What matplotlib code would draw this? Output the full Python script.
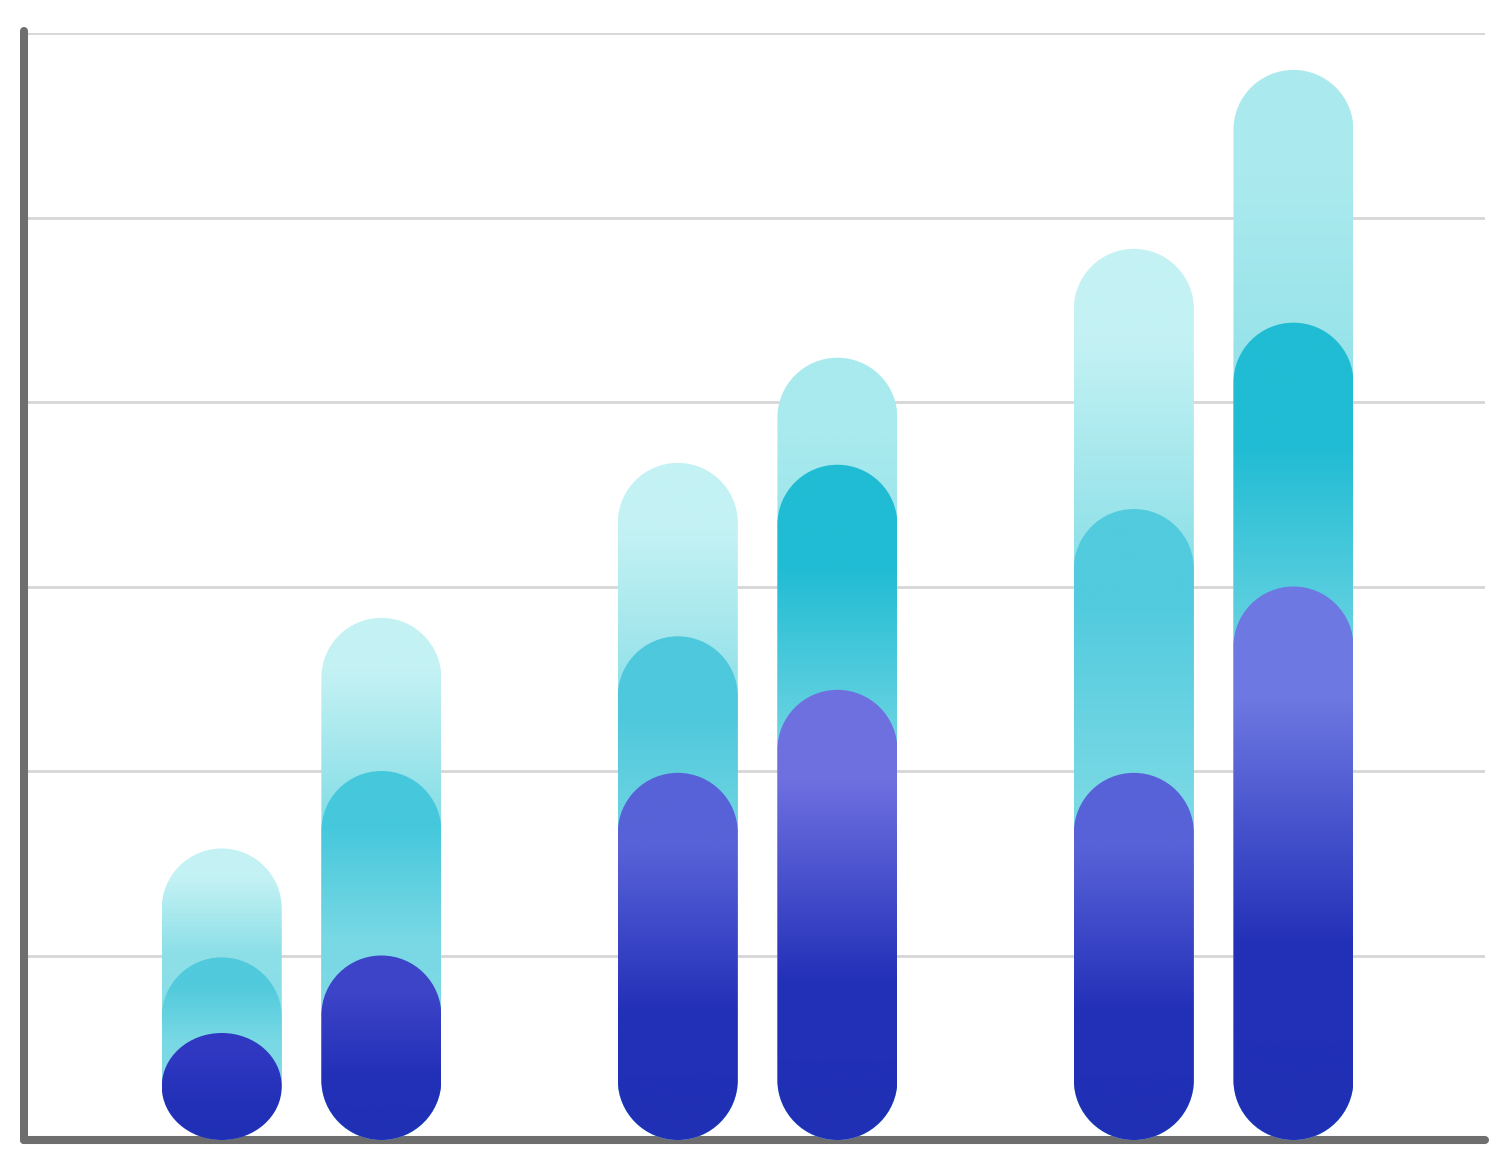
import numpy as np
import matplotlib
matplotlib.use("Agg")
import matplotlib.pyplot as plt
from matplotlib.path import Path
from matplotlib.patches import PathPatch
from matplotlib.colors import to_rgb

# three groups, two bars each; three overlapping layers per bar
groups = [0, 1, 2]
offsets = [-0.175, 0.175]
light_vals = [1.58, 2.83, 3.67, 4.24, 4.83, 5.80]
mid_vals = [0.99, 2.00, 2.73, 3.66, 3.42, 4.43]
dark_vals = [0.58, 1.00, 1.99, 2.44, 1.99, 3.00]

# per bar top colours
light_top = ['#c4f2f4', '#c4f2f4', '#c4f2f4', '#a8eaee', '#c4f2f4', '#aaeaee']
mid_top = ['#50cadc', '#46c8dc', '#4ec8dc', '#20bcd4', '#52cbde', '#20bcd4']
dark_top = ['#3038c2', '#3d44c8', '#5862d8', '#6e70e0', '#5862d8', '#6e78e2']

W, H = 1512, 1176
fig = plt.figure(figsize=(W / 100, H / 100), dpi=100)
ax = fig.add_axes([24 / W, 36 / H, (1485 - 24) / W, (1140 - 33) / H])
xlim = (-0.6086, 2.595)
ax.set_xlim(*xlim)
ax.set_ylim(0, 6)

# px per data unit
px_x = (1485 - 24) / (xlim[1] - xlim[0])
px_y = (1140 - 33) / 6.0
width = 120 / px_x


def pill(xc, top, w):
    r = w / 2
    ry = min(r * px_x / px_y, top / 2)
    k = 0.5523
    x0, x1 = xc - r, xc + r
    verts = [(x1, ry), (x1, top - ry),
             (x1, top - ry + k * ry), (xc + k * r, top), (xc, top),
             (xc - k * r, top), (x0, top - ry + k * ry), (x0, top - ry),
             (x0, ry),
             (x0, ry - k * ry), (xc - k * r, 0), (xc, 0),
             (xc + k * r, 0), (x1, ry - k * ry), (x1, ry),
             (x1, ry)]
    codes = [Path.MOVETO, Path.LINETO,
             Path.CURVE4, Path.CURVE4, Path.CURVE4,
             Path.CURVE4, Path.CURVE4, Path.CURVE4,
             Path.LINETO,
             Path.CURVE4, Path.CURVE4, Path.CURVE4,
             Path.CURVE4, Path.CURVE4, Path.CURVE4,
             Path.CLOSEPOLY]
    return Path(verts, codes)


def gradient(stops, n=256):
    t = np.linspace(0, 1, n)
    pos = [s[0] for s in stops]
    cols = np.array([to_rgb(s[1]) for s in stops])
    rgb = np.stack([np.interp(t, pos, cols[:, i]) for i in range(3)], axis=1)
    return rgb[:, None, :]


def draw_bar(xc, top, stops, z):
    path = pill(xc, top, width)
    patch = PathPatch(path, facecolor='none', edgecolor='none', zorder=z)
    ax.add_patch(patch)
    img = ax.imshow(gradient(stops), extent=[xc - width / 2, xc + width / 2, 0, top],
                    origin='upper', aspect='auto', zorder=z, interpolation='bilinear')
    img.set_clip_path(patch)


xs = [g + o for g in groups for o in offsets]
for i, xc in enumerate(xs):
    draw_bar(xc, light_vals[i],
             [(0, light_top[i]), (0.1, light_top[i]), (0.35, '#8ee0e8'), (1, '#7ed8e4')], 2)
    draw_bar(xc, mid_vals[i],
             [(0, mid_top[i]), (0.15, mid_top[i]), (0.45, '#78d8e4'), (1, '#8adde8')], 3)
    draw_bar(xc, dark_vals[i],
             [(0, dark_top[i]), (0.2, dark_top[i]), (0.65, '#2230b8'), (1, '#2030b5')], 4)

ax.set_xlim(*xlim)
ax.set_ylim(0, 6)
ax.set_yticks([1, 2, 3, 4, 5, 6])
ax.set_xticks([])
ax.yaxis.grid(True, color='#d6d6d6', linewidth=2.0)
ax.set_axisbelow(True)
ax.tick_params(left=False, labelleft=False)
for s in ['top', 'right']:
    ax.spines[s].set_visible(False)
for s in ['left', 'bottom']:
    ax.spines[s].set_color('#6e6e6e')
    ax.spines[s].set_linewidth(5.8)
    ax.spines[s].set_capstyle('round')
ax.spines['left'].set_bounds(0, 6.01)

fig.savefig('out.png', dpi=100)
